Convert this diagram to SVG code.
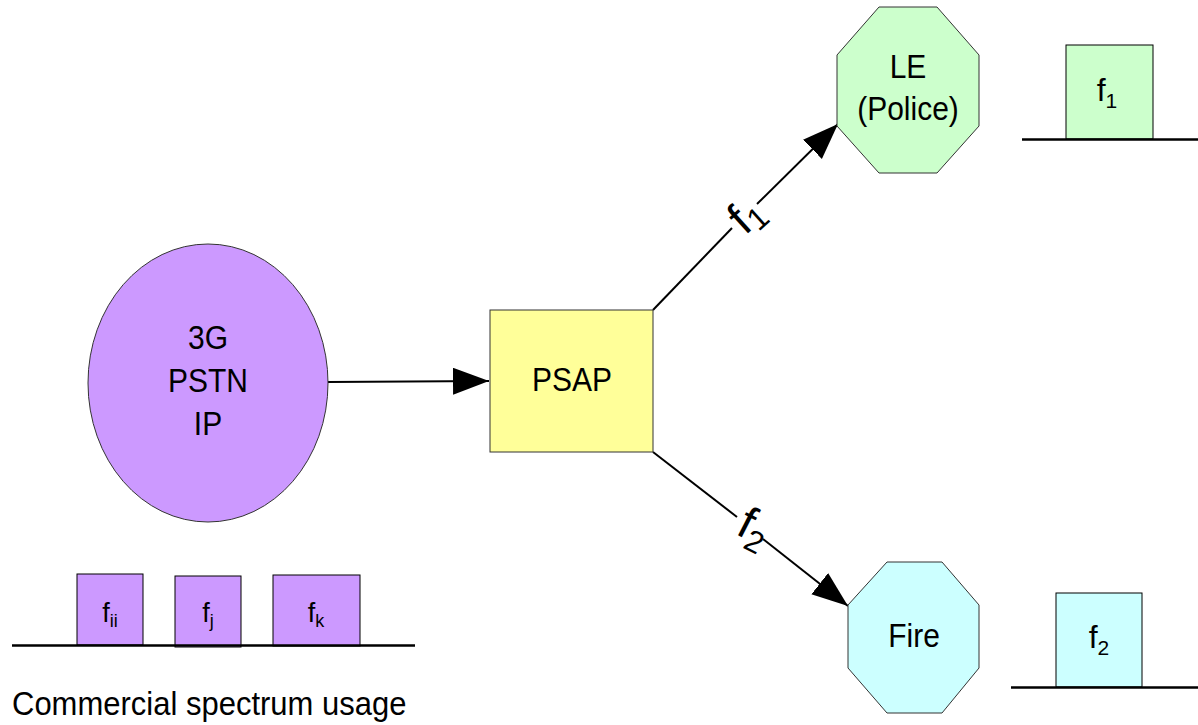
<svg xmlns="http://www.w3.org/2000/svg" width="1198" height="725" viewBox="0 0 1198 725">
<defs>
<marker id="arr" markerUnits="userSpaceOnUse" markerWidth="38" markerHeight="28" refX="36" refY="13.5" orient="auto">
<path d="M0,0 L36,13.5 L0,27 Z" fill="#000"/>
</marker>
<style>
text{font-family:"Liberation Sans",Arial,sans-serif;fill:#000}
.lbl{font-size:30px;text-anchor:middle}
.node{stroke:#333;stroke-width:1}
.box{stroke:#000;stroke-width:1}
.base{stroke:#000;stroke-width:2.5;fill:none}
.conn{stroke:#000;stroke-width:2;fill:none}
.big{font-size:46px}
</style>
</defs>
<rect width="1198" height="725" fill="#fff"/>

<g id="connectors">
<line class="conn" x1="328" y1="382" x2="489" y2="381" marker-end="url(#arr)"/>
<line class="conn" x1="653" y1="310" x2="732" y2="228"/>
<line class="conn" x1="757" y1="204" x2="838" y2="124" marker-end="url(#arr)"/>
<line class="conn" x1="653" y1="452" x2="737" y2="517"/>
<line class="conn" x1="763" y1="539" x2="848" y2="606" marker-end="url(#arr)"/>
<text transform="translate(745,236) rotate(-42)" class="big">f<tspan font-size="31" dy="6">1</tspan></text>
<text transform="translate(734.5,533.5) rotate(27)" class="big">f<tspan font-size="31" dy="9">2</tspan></text>
</g>

<g id="node-3g">
<ellipse class="node" cx="208" cy="383" rx="120" ry="139" fill="#CC99FF"/>
<text class="lbl" transform="translate(208,349) scale(1,1.12)">3G</text>
<text class="lbl" transform="translate(208,392) scale(1,1.12)">PSTN</text>
<text class="lbl" transform="translate(208,435) scale(1,1.12)">IP</text>
</g>

<g id="node-psap">
<rect class="node" x="490" y="310" width="163" height="142" fill="#FFFF99"/>
<text class="lbl" transform="translate(572,391) scale(1,1.12)">PSAP</text>
</g>

<g id="node-le">
<polygon class="node" points="879,7 937,7 979,55 979,126 937,173 879,173 837,126 837,55" fill="#CCFFCC"/>
<text class="lbl" transform="translate(908,78) scale(1,1.12)">LE</text>
<text class="lbl" transform="translate(908,120) scale(1,1.12)">(Police)</text>
</g>

<g id="node-fire">
<polygon class="node" points="887,562 942,562 979,605 979,668 942,713 887,713 848,668 848,605" fill="#CCFFFF"/>
<text class="lbl" transform="translate(914,647) scale(1,1.12)">Fire</text>
</g>

<g id="spectrum-le">
<rect class="box" x="1066" y="45" width="87" height="94" fill="#CCFFCC"/>
<line class="base" x1="1022" y1="139.5" x2="1198" y2="139.5"/>
<text x="1107" y="101" font-size="32" text-anchor="middle">f<tspan font-size="21" dy="7">1</tspan></text>
</g>

<g id="spectrum-fire">
<rect class="box" x="1056" y="593" width="86" height="94" fill="#CCFFFF"/>
<line class="base" x1="1011" y1="687.5" x2="1198" y2="687.5"/>
<text x="1099" y="648" font-size="32" text-anchor="middle">f<tspan font-size="21" dy="7">2</tspan></text>
</g>

<g id="spectrum-commercial">
<rect class="box" x="77" y="574" width="66" height="71" fill="#CC99FF"/>
<rect class="box" x="175" y="576" width="66" height="71" fill="#CC99FF"/>
<rect class="box" x="273" y="575" width="87" height="71" fill="#CC99FF"/>
<line class="base" x1="12" y1="645.5" x2="415" y2="645.5"/>
<text x="110" y="622" font-size="27" text-anchor="middle">f<tspan font-size="18" dy="5">ii</tspan></text>
<text x="208" y="622" font-size="27" text-anchor="middle">f<tspan font-size="18" dy="5">j</tspan></text>
<text x="316" y="622" font-size="27" text-anchor="middle">f<tspan font-size="18" dy="5">k</tspan></text>
<text font-size="31" transform="translate(12,715) scale(1,1.1)">Commercial spectrum usage</text>
</g>
</svg>
